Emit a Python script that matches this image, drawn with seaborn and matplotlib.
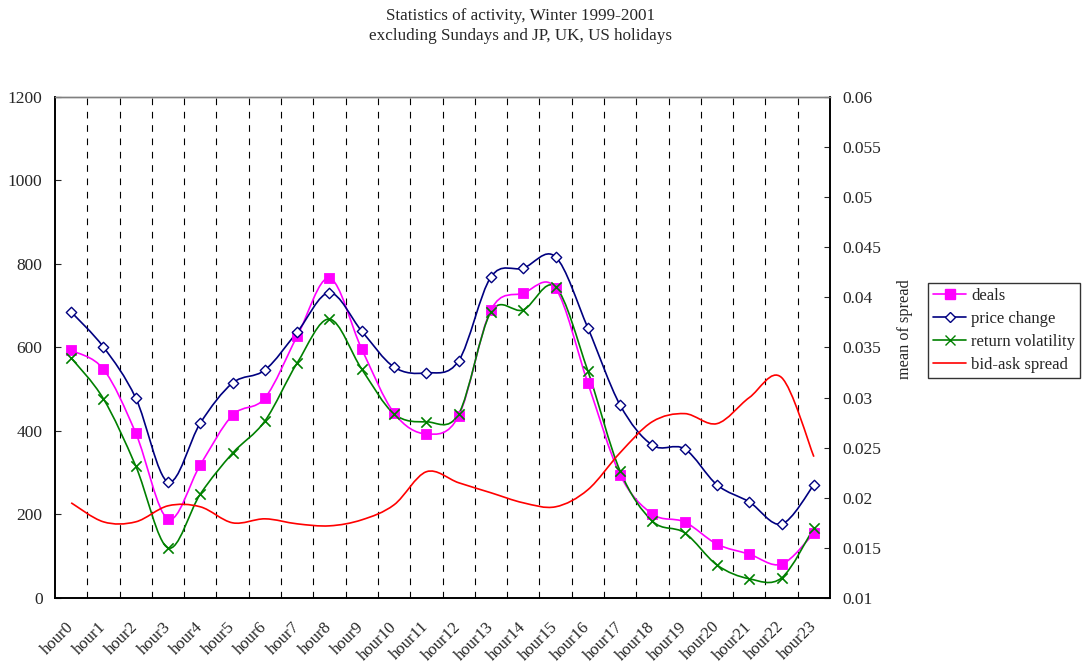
import numpy as np
import pandas as pd
import seaborn as sns
import matplotlib
matplotlib.use('Agg')
import matplotlib.pyplot as plt
import matplotlib.transforms as mtransforms
from matplotlib.path import Path
from matplotlib.patches import PathPatch
from matplotlib.lines import Line2D

# 数据
hours = ['hour%d' % i for i in range(24)]
deals = [593, 548, 395, 189, 319, 438, 479, 627, 766, 596, 443, 393,
         436, 690, 730, 742, 515, 295, 201, 182, 129, 105, 81, 155]
price_change = [685, 601, 479, 278, 419, 515, 546, 637, 731, 639, 553, 539,
                568, 769, 790, 817, 647, 462, 366, 357, 271, 230, 177, 271]
return_volatility = [575, 477, 316, 120, 249, 347, 424, 563, 668, 548, 441, 422,
                     441, 685, 690, 745, 544, 304, 184, 156, 79, 46, 48, 168]
spread = [0.0195, 0.0176, 0.0176, 0.0192, 0.0191, 0.0175, 0.0179, 0.0174,
          0.0172, 0.0178, 0.0193, 0.0226, 0.0215, 0.0205, 0.0195, 0.0191,
          0.0208, 0.0245, 0.0276, 0.0284, 0.0274, 0.0300, 0.0320, 0.0241]

df = pd.DataFrame({'pos': np.arange(len(hours)), 'hour': hours, 'deals': deals,
                   'price change': price_change, 'return volatility': return_volatility,
                   'spread': spread})

sns.set_style('white')
plt.rcParams['font.family'] = ['Liberation Serif', 'DejaVu Serif']


def smooth_path(x, y, t=1.0 / 6):
    # Excel风格的平滑曲线: 三次贝塞尔
    p = np.column_stack([x, y]).astype(float)
    n = len(p)
    verts = [p[0]]
    codes = [Path.MOVETO]
    for i in range(n - 1):
        p_prev = p[i - 1] if i > 0 else p[i]
        p_next2 = p[i + 2] if i + 2 < n else p[i + 1]
        c1 = p[i] + (p[i + 1] - p_prev) * t
        c2 = p[i + 1] - (p_next2 - p[i]) * t
        verts += [c1, c2, p[i + 1]]
        codes += [Path.CURVE4] * 3
    return Path(verts, codes)


fig = plt.figure(figsize=(10.83, 6.64), dpi=100)
ax = fig.add_axes([0.0508, 0.0994, 0.7156, 0.7546])
ax2 = ax.twinx()

# 类别分隔虚线
ax.vlines(np.arange(0.5, 23, 1), 0, 1200, colors='black', linestyles=(0, (6, 6)), lw=0.8, zorder=1)

series = [('deals', '#FF00FF'), ('price change', '#000080'), ('return volatility', '#008000')]
for name, c in series:
    ax.add_patch(PathPatch(smooth_path(df['pos'], df[name]), fc='none', ec=c, lw=1.2, zorder=3))

sns.scatterplot(data=df, x='pos', y='deals', marker='s', color='#FF00FF', s=55,
                edgecolor='#FF00FF', ax=ax, zorder=4)
sns.scatterplot(data=df, x='pos', y='price change', marker='D', s=28, facecolor='white',
                edgecolor='#000080', linewidth=1.0, ax=ax, zorder=4)
sns.scatterplot(data=df, x='pos', y='return volatility', marker='x', color='#008000', s=55,
                linewidth=1.2, ax=ax, zorder=4)

ax2.add_patch(PathPatch(smooth_path(df['pos'], df['spread']), fc='none', ec='#FF0000', lw=1.2, zorder=3))

ax.set_xlim(-0.5, 23.5)
ax.set_ylim(0, 1200)
ax.set_yticks(np.arange(0, 1201, 200))
ax2.set_ylim(0.01, 0.06)
yt2 = np.arange(0.01, 0.0601, 0.005)
ax2.set_yticks(yt2)
ax2.set_yticklabels(['%g' % round(v, 3) for v in yt2])

ax.set_xticks(df['pos'])
ax.set_xticklabels(hours, rotation=45, ha='right', va='center', rotation_mode='anchor')
shift = mtransforms.ScaledTranslation(-0.06, 0, fig.dpi_scale_trans)
for lab in ax.get_xticklabels():
    lab.set_transform(lab.get_transform() + shift)
ax.set_xlabel('')
ax.set_ylabel('')
ax2.set_ylabel('mean of spread', fontsize=11.7)
ax2.yaxis.set_label_coords(1.087, 0.537)

ax.tick_params(axis='x', length=0, pad=19, labelsize=12)
ax.tick_params(axis='y', direction='in', length=4, labelsize=12.5, pad=9)
ax2.tick_params(axis='y', direction='in', length=4, labelsize=12.5, pad=9)

for a in (ax, ax2):
    for s in a.spines.values():
        s.set_color('black')
        s.set_linewidth(1.2)
    a.spines['top'].set_color('#808080')
    a.spines['top'].set_linewidth(1.0)

fig.suptitle('Statistics of activity, Winter 1999-2001\nexcluding Sundays and JP, UK, US holidays',
             fontsize=12.3, x=0.481, y=0.988, linespacing=1.3)

handles = [Line2D([], [], color='#FF00FF', marker='s', markersize=7, lw=1.2),
           Line2D([], [], color='#000080', marker='D', markersize=5, mfc='white', lw=1.2),
           Line2D([], [], color='#008000', marker='x', markersize=7, lw=1.2),
           Line2D([], [], color='#FF0000', lw=1.2)]
labels = ['deals', 'price change', 'return volatility', 'bid-ask spread']
leg = fig.legend(handles, labels, loc='center left', bbox_to_anchor=(0.857, 0.503),
                 fontsize=12, frameon=True, fancybox=False, edgecolor='black',
                 handlelength=2.0, handletextpad=0.3, borderpad=0.3, labelspacing=0.42,
                 borderaxespad=0)
leg.get_frame().set_linewidth(1.0)

fig.savefig('out.png', dpi=100)
